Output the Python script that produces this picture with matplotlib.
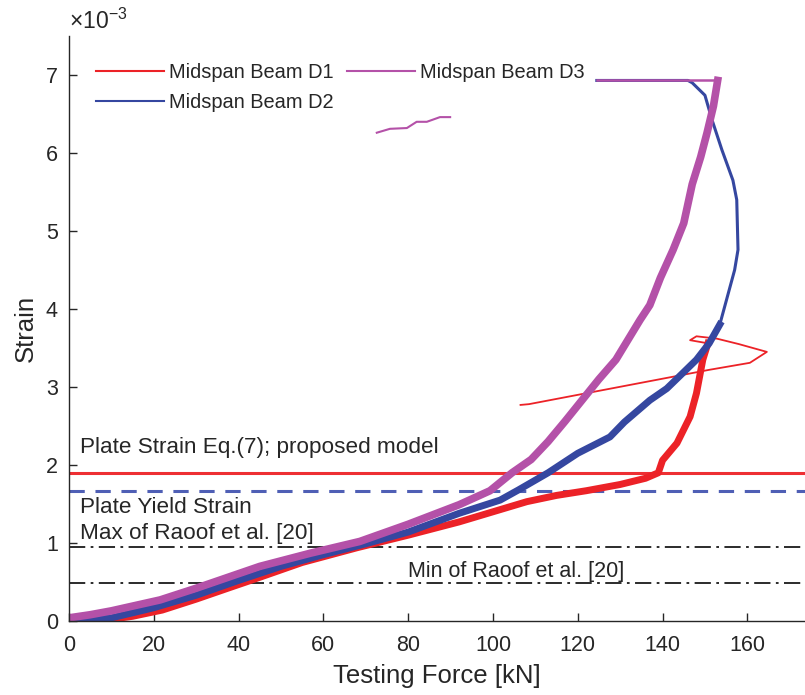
import numpy as np
import matplotlib
matplotlib.use("Agg")
import matplotlib.pyplot as plt

plt.rcParams['font.family'] = ['Liberation Sans', 'DejaVu Sans']
plt.rcParams['mathtext.fontset'] = 'custom'
plt.rcParams['mathtext.rm'] = 'Liberation Sans'

# strain values in units of 1e-3, force in kN
d1_force = [7, 15, 22, 30, 38, 45, 55, 68, 80, 92, 100, 108, 115, 122, 130, 136, 139,
            140, 143.4, 146.5, 148, 149.5, 150.7]
d1_strain = [0, 0.06, 0.14, 0.28, 0.43, 0.56, 0.75, 0.94, 1.1, 1.27, 1.4, 1.53, 1.61, 1.67,
             1.75, 1.83, 1.9, 2.06, 2.28, 2.62, 2.92, 3.35, 3.56]
d1_loop_force = [150.7, 146.5, 148, 152.8, 158, 164.6, 160.6, 151, 108.5, 106.5]
d1_loop_strain = [3.56, 3.6, 3.65, 3.62, 3.55, 3.45, 3.31, 3.22, 2.78, 2.77]

d2_force = [0, 10, 20, 30, 40, 50, 60, 70, 80, 92, 101.7, 106, 113, 120, 127.6, 131, 137,
            141, 144.8, 148, 151, 153.5]
d2_strain = [0, 0.04, 0.17, 0.33, 0.52, 0.7, 0.85, 0.99, 1.14, 1.38, 1.55, 1.68, 1.9, 2.15,
             2.36, 2.55, 2.83, 2.98, 3.18, 3.35, 3.56, 3.8]
d2_top_force = [153.5, 155, 157, 157.8, 157.5, 156.6, 154, 151.7, 150, 147, 146, 135, 124.5]
d2_top_strain = [3.8, 4.1, 4.5, 4.76, 5.4, 5.65, 6.04, 6.42, 6.74, 6.9, 6.93, 6.93, 6.93]

d3_force = [0, 5, 10, 21.5, 30, 45, 57, 68.6, 80, 92, 99.3, 104.5, 109, 113, 117, 121, 125,
            129, 134.7, 137, 139.5, 142.5, 145, 147, 149, 150.5, 152, 153]
d3_strain = [0.04, 0.08, 0.13, 0.27, 0.42, 0.7, 0.87, 1.02, 1.24, 1.49, 1.67, 1.9, 2.07, 2.3,
             2.56, 2.83, 3.1, 3.35, 3.86, 4.05, 4.4, 4.76, 5.1, 5.6, 5.95, 6.26, 6.6, 6.93]
d3_top_force = [153, 140, 124.5]
d3_top_strain = [6.93, 6.93, 6.93]
d3_frag_force = [72.6, 75.7, 79.7, 82, 84.4, 87.5, 89.9]
d3_frag_strain = [6.26, 6.31, 6.32, 6.4, 6.4, 6.46, 6.46]

plate_strain_eq7 = 1.90
plate_yield = 1.67
raoof_max = 0.95
raoof_min = 0.49

red = '#ec2227'
blue = '#3547a0'
magenta = '#b451a8'
txt = '#262626'

s = 1e-3
fig = plt.figure(figsize=(8.05, 6.95), dpi=100)
ax = fig.add_axes([0.0857, 0.1065, 0.9143, 0.8417])

ax.axhline(plate_strain_eq7 * s, color='#ee2f33', lw=2.2)
ax.axhline(plate_yield * s, color='#4f5fb5', lw=2.2, ls=(0, (5, 3.5)))
ax.axhline(raoof_max * s, color='#1a1a1a', lw=1.3, ls=(0, (9, 3, 1.5, 3)))
ax.axhline(raoof_min * s, color='#1a1a1a', lw=1.3, ls=(0, (9, 3, 1.5, 3)))

ax.plot(d1_force, np.array(d1_strain) * s, color=red, lw=5, solid_joinstyle='round')
ax.plot(d1_loop_force, np.array(d1_loop_strain) * s, color=red, lw=1.3)
ax.plot(d2_force, np.array(d2_strain) * s, color=blue, lw=5, solid_joinstyle='round')
ax.plot(d2_top_force, np.array(d2_top_strain) * s, color=blue, lw=2.2)
ax.plot(d3_force, np.array(d3_strain) * s, color=magenta, lw=5.5, solid_joinstyle='round')
ax.plot(d3_top_force, np.array(d3_top_strain) * s, color=magenta, lw=1.8)
ax.plot(d3_frag_force, np.array(d3_frag_strain) * s, color=magenta, lw=1.5)

# legend handles
h1, = ax.plot([], [], color=red, lw=1.5, label='Midspan Beam D1')
h2, = ax.plot([], [], color=blue, lw=1.5, label='Midspan Beam D2')
h3, = ax.plot([], [], color=magenta, lw=1.5, label='Midspan Beam D3')
ax.legend(handles=[h1, h2, h3], ncol=2, loc='upper left', bbox_to_anchor=(0.037, 0.953),
          frameon=False, fontsize=14.4, handlelength=3.4, handletextpad=0.25,
          columnspacing=0.65, labelspacing=0.55, borderpad=0, borderaxespad=0,
          labelcolor=txt)

ax.text(2.6, 2.23 * s, 'Plate Strain Eq.(7); proposed model', fontsize=16.2, color=txt, va='center')
ax.text(2.6, 1.46 * s, 'Plate Yield Strain', fontsize=16.2, color=txt, va='center')
ax.text(2.6, 1.12 * s, 'Max of Raoof et al. [20]', fontsize=16.2, color=txt, va='center')
ax.text(80, 0.63 * s, 'Min of Raoof et al. [20]', fontsize=15.5, color=txt, va='center')

ax.set_xlim(0, 173.6)
ax.set_ylim(0, 7.5e-3)
ax.set_xticks(np.arange(0, 161, 20))
ax.set_yticks(np.arange(0, 8) * s)
ax.set_yticklabels([str(v) for v in range(8)])
ax.spines['top'].set_visible(False)
ax.spines['right'].set_visible(False)
for sp in ('left', 'bottom'):
    ax.spines[sp].set_color(txt)
    ax.spines[sp].set_linewidth(1.0)
ax.tick_params(direction='in', length=6, width=1.0, colors=txt, labelsize=15.5)
ax.tick_params(axis='x', pad=10)
ax.tick_params(axis='y', pad=8)
ax.set_xlabel('Testing Force [kN]', fontsize=18.5, color=txt, labelpad=6)
ax.set_ylabel('Strain', fontsize=18.5, color=txt, labelpad=6)
ax.text(0, 1.004, r'$\times 10^{-3}$', transform=ax.transAxes, fontsize=16.5, color=txt,
        ha='left', va='bottom')

fig.savefig('out.png', dpi=100)
